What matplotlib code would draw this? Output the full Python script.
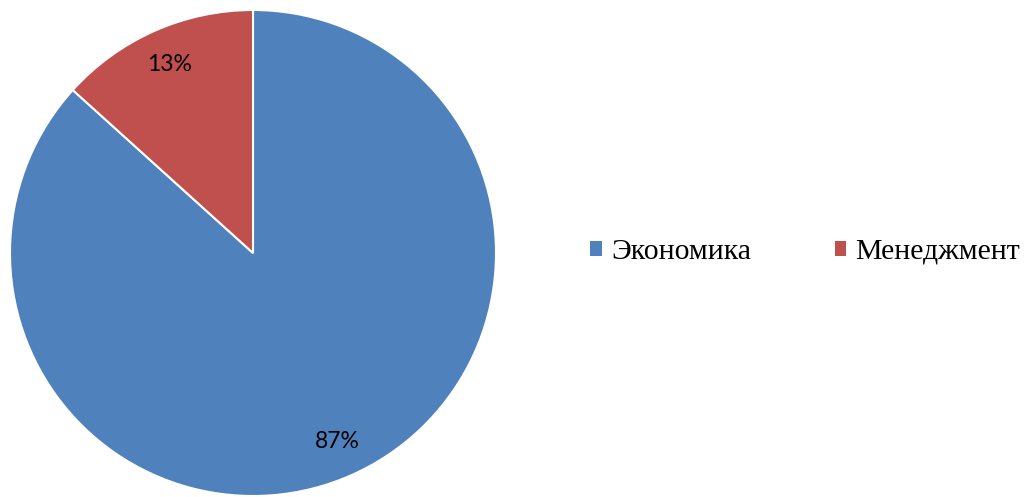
import matplotlib
matplotlib.use("Agg")
import matplotlib.pyplot as plt
from matplotlib.patches import Patch
import numpy as np

categories = ["Экономика", "Менеджмент"]
values = [86.7, 13.3]
labels_pct = ["87%", "13%"]
colors = ["#4F81BD", "#C0504D"]

W, H = 1027, 497
fig = plt.figure(figsize=(W / 100, H / 100), dpi=100)
cx, cy, r = 253, 497 - 253, 243
ax = fig.add_axes([(cx - r) / W, (cy - r) / H, 2 * r / W, 2 * r / H])
wedges, _ = ax.pie(values, colors=colors, startangle=90, counterclock=False,
                   radius=1.0, wedgeprops=dict(edgecolor="white", linewidth=1.5))
for w, lab in zip(wedges, labels_pct):
    ang = np.deg2rad((w.theta1 + w.theta2) / 2)
    ax.text(0.85 * np.cos(ang), 0.85 * np.sin(ang), lab, ha="center", va="center",
            fontsize=16.5, family=["Lato", "DejaVu Sans"], color="black")
ax.set_xlim(-1, 1)
ax.set_ylim(-1, 1)
ax.set_aspect("equal")
ax.axis("off")

handles = [Patch(facecolor=c, edgecolor="none") for c in colors]
fig.legend(handles, categories, loc="center left", bbox_to_anchor=(590 / W, 245 / H),
           ncol=2, frameon=False, borderpad=0, borderaxespad=0,
           handlelength=0.4, handleheight=0.4, handletextpad=0.3, columnspacing=2.8,
           prop=dict(family=["Liberation Serif", "DejaVu Serif"], size=21.5))

fig.savefig("out.png", dpi=100)
